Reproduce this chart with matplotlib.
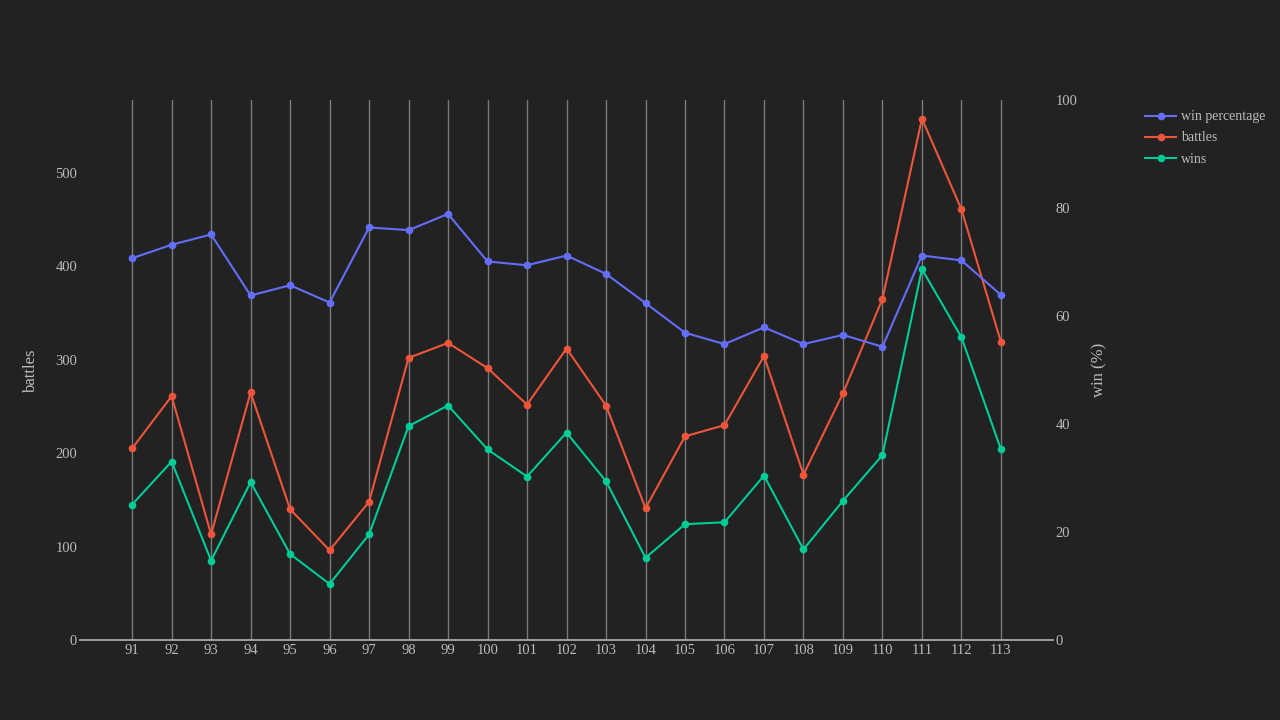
import matplotlib
matplotlib.use('Agg')
import matplotlib.pyplot as plt

BG = '#222222'
TEXT = '#bbbbbb'

tiers = list(range(91, 114))
battles = [205, 261, 113, 265, 140, 96, 148, 302, 318, 291, 252, 312,
           251, 141, 218, 230, 304, 177, 264, 365, 558, 461, 319]
wins = [145, 191, 85, 169, 92, 60, 113, 229, 251, 204, 175, 222,
        170, 88, 124, 126, 176, 97, 149, 198, 397, 324, 204]
win_pct = [70.7, 73.2, 75.1, 63.8, 65.7, 62.5, 76.4, 75.9, 78.9, 70.1, 69.4, 71.2,
           67.8, 62.4, 56.9, 54.8, 57.9, 54.8, 56.5, 54.3, 71.2, 70.3, 63.9]

plt.rcParams['font.family'] = ['Liberation Serif', 'DejaVu Serif']
plt.rcParams['font.size'] = 10

fig = plt.figure(figsize=(12.8, 7.2), dpi=100, facecolor=BG)
ax = fig.add_axes([0.0625, 0.1111, 0.7602, 0.75])
ax.set_facecolor(BG)
ax2 = ax.twinx()

l_b, = ax.plot(tiers, battles, color='#EF553B', lw=1.5, marker='o', ms=4.5, label='battles')
l_w, = ax.plot(tiers, wins, color='#00CC96', lw=1.5, marker='o', ms=4.5, label='wins')
l_p, = ax2.plot(tiers, win_pct, color='#636EFA', lw=1.5, marker='o', ms=4.5, label='win percentage')

ax.set_xlim(89.68, 114.32)
ax.set_ylim(0, 578)
ax2.set_ylim(0, 100)

ax.set_xticks(tiers)
ax.set_xticklabels([str(t) for t in tiers])
ax.set_yticks([0, 100, 200, 300, 400, 500])
ax2.set_yticks([0, 20, 40, 60, 80, 100])

for t in tiers:
    ax.axvline(t, color='#7a7a7a', lw=1, zorder=0)

for a in (ax, ax2):
    for s in a.spines.values():
        s.set_visible(False)
    a.tick_params(length=0, colors=TEXT, labelsize=10.5)
ax.spines['bottom'].set_visible(True)
ax.spines['bottom'].set_color('#aaaaaa')
ax.spines['bottom'].set_linewidth(1.3)
ax.tick_params(axis='x', pad=3)
ax.tick_params(axis='y', pad=2)
ax2.tick_params(axis='y', pad=2)

ax.set_ylabel('battles', color=TEXT, fontsize=12, labelpad=12)
ax2.set_ylabel('win (%)', color=TEXT, fontsize=12, labelpad=10)

leg = fig.legend(handles=[l_p, l_b, l_w], loc='upper left', bbox_to_anchor=(0.885, 0.864),
                 frameon=False, fontsize=10, labelcolor=TEXT, handlelength=2.2,
                 handletextpad=0.4, labelspacing=0.58)

fig.savefig('out.png', dpi=100, facecolor=BG)
